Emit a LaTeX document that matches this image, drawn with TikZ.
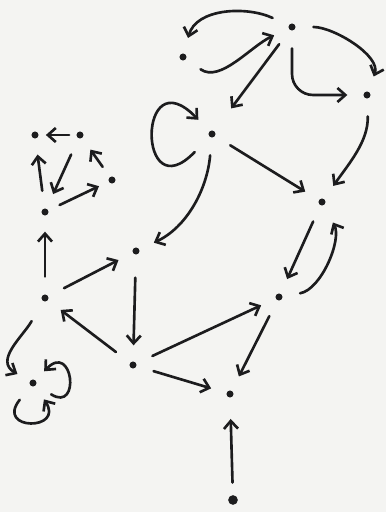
\documentclass[tikz,border=0pt]{standalone}
\usetikzlibrary{arrows.meta}
\definecolor{ink}{RGB}{28,28,30}
\definecolor{paper}{RGB}{244,244,242}
\begin{document}
\begin{tikzpicture}[x=0.02cm,y=0.02cm,
  dot/.style={circle,fill=ink,inner sep=0pt,minimum size=4pt},
  bigdot/.style={circle,fill=ink,inner sep=0pt,minimum size=5.5pt},
  arr/.style={draw=ink,line width=1.5pt,line cap=round,
    -{Straight Barb[length=4.5pt,width=8pt,line width=1.5pt]},
    shorten <=10pt, shorten >=9pt}]
\fill[paper] (0,0) rectangle (386,512);
\useasboundingbox (0,0) rectangle (386,512);
% nodes
\node[dot] (A) at (292,485) {};
\node[dot] (B) at (183,455) {};
\node[dot] (C) at (367,417) {};
\node[dot] (D) at (212,378) {};
\node[dot] (E) at (322,310) {};
\node[dot] (F) at (279,215) {};
\node[dot] (G) at (136,261) {};
\node[dot] (H) at (45,214) {};
\node[dot] (I) at (45,300) {};
\node[dot] (J) at (35,377) {};
\node[dot] (K) at (80,377) {};
\node[dot] (L) at (112,332) {};
\node[dot] (M) at (133,147) {};
\node[dot] (N) at (230,118) {};
\node[bigdot] (O) at (233,12) {};
\node[dot] (P) at (33,129) {};
% top cluster
\draw[arr] (A) to[out=155,in=75,looseness=1.1] (B);
\draw[arr] (B) to[out=-35,in=205] (A);
\draw[arr] (A) to[out=0,in=70] (C);
\draw[arr,rounded corners=12pt] (A) |- (C);
\draw[arr,shorten >=16pt] (A) -- (D);
\draw[arr,shorten <=12pt] (D) .. controls +(-75,-78) and +(-75,78) .. (D);
\draw[arr] (D) -- (E);
\draw[arr] (C) to[out=-88,in=55] (E);
\draw[arr] (E) -- (F);
\draw[arr,shorten >=11pt] (F) to[out=10,in=-62] (E);
\draw[arr] (D) to[out=-95,in=25] (G);
% left cluster
\draw[arr] (H) -- (G);
\draw[arr] (H) -- (I);
\draw[arr] (I) -- (J);
\draw[arr,shorten <=4pt,shorten >=4pt] (K) -- (J);
\draw[arr] (K) -- (I);
\draw[arr,shorten <=7pt,shorten >=8pt] (L) -- (K);
\draw[arr,shorten <=7pt,shorten >=6pt] (I) -- (L);
% bottom
\draw[arr,shorten <=13pt] (G) -- (M);
\draw[arr] (M) -- (H);
\draw[arr] (M) -- (F);
\draw[arr] (M) -- (N);
\draw[arr] (F) -- (N);
\draw[arr,shorten <=7pt,shorten >=12pt] (O) -- (N);
\draw[arr,shorten <=13pt,shorten >=8pt] (H) to[out=240,in=150,looseness=1.3] (P);
\draw[arr,shorten >=7pt] (P) .. controls +(48,-30) and +(40,42) .. (P);
\draw[arr] (P) .. controls +(-38,-48) and +(32,-48) .. (P);
\end{tikzpicture}
\end{document}
